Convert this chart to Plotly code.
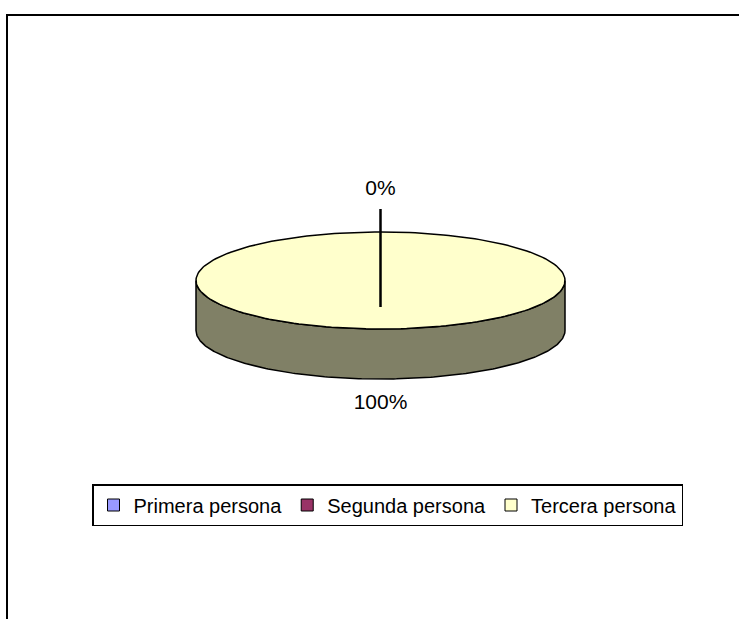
import numpy as np
import plotly.graph_objects as go

# Datos del gráfico (porcentaje por persona gramatical)
categorias = ["Primera persona", "Segunda persona", "Tercera persona"]
valores = [0, 0, 100]
colores = ["#9999FF", "#993366", "#FFFFCC"]
colores_lado = ["#4D4D80", "#4D1A33", "#808066"]

W, H = 739, 619
# geometría de la tarta 3D (en píxeles, ejes 1:1)
CX, CY = 380.5, 280.5
RX, RY = 184.5, 48.5
PROF = 50
FUENTE = "Liberation Sans, Arial, sans-serif"


def arco(a0, a1, dy=0, n=200):
    t = np.linspace(a0, a1, n)
    return CX + RX * np.sin(t), CY - RY * np.cos(t) + dy


total = sum(valores)
fracs = [v / total for v in valores]
cortes = np.concatenate([[0], np.cumsum(fracs)]) * 2 * np.pi

fig = go.Figure()

# lados visibles (mitad frontal)
for i, v in enumerate(valores):
    if v == 0:
        continue
    a0, a1 = max(cortes[i], np.pi / 2), min(cortes[i + 1], 3 * np.pi / 2)
    if a1 <= a0:
        continue
    xs, ys = arco(a0, a1)
    xb, yb = arco(a1, a0, dy=PROF)
    fig.add_trace(go.Scatter(
        x=np.concatenate([xs, xb, xs[:1]]), y=np.concatenate([ys, yb, ys[:1]]),
        mode="lines", fill="toself", fillcolor=colores_lado[i],
        line=dict(color="black", width=1.5), showlegend=False, hoverinfo="skip"))

# caras superiores
for i, v in enumerate(valores):
    if v == 0:
        continue
    xs, ys = arco(cortes[i], cortes[i + 1])
    if fracs[i] < 1:
        xs = np.concatenate([[CX], xs, [CX]])
        ys = np.concatenate([[CY], ys, [CY]])
    fig.add_trace(go.Scatter(
        x=xs, y=ys, mode="lines", fill="toself", fillcolor=colores[i],
        line=dict(color="black", width=1.5), showlegend=False, hoverinfo="skip"))

# etiquetas de porcentaje
etiquetas = {}
for i, f in enumerate(fracs):
    m = (cortes[i] + cortes[i + 1]) / 2
    if np.cos(m) >= 0:
        pos = (CX + (RX + 42) * np.sin(m), CY - (RY + 42) * np.cos(m))
    else:
        pos = (CX + (RX + 25) * np.sin(m), CY - (RY + 25) * np.cos(m) + PROF)
    etiquetas[(round(pos[0], 1), round(pos[1], 1))] = f"{round(f * 100)}%"
    if f == 0:
        # línea guía para las porciones vacías
        fig.add_trace(go.Scatter(
            x=[pos[0], pos[0]], y=[pos[1] + 19, CY + 26.5], mode="lines",
            line=dict(color="black", width=2), showlegend=False, hoverinfo="skip"))

fig.add_trace(go.Scatter(
    x=[p[0] for p in etiquetas], y=[p[1] for p in etiquetas],
    text=list(etiquetas.values()), mode="text",
    textfont=dict(family=FUENTE, size=21, color="black"),
    showlegend=False, hoverinfo="skip"))

# entradas de la leyenda
for cat, col in zip(categorias, colores):
    fig.add_trace(go.Scatter(
        x=[None], y=[None], mode="markers", name=cat,
        marker=dict(symbol="square", size=12, color=col, line=dict(color="black", width=1))))

# marco del área del gráfico
fig.add_shape(type="line", x0=6, x1=W + 5, y0=15, y1=15, line=dict(color="black", width=2))
fig.add_shape(type="line", x0=7, x1=7, y0=15, y1=H + 5, line=dict(color="black", width=2))

fig.update_layout(
    width=W, height=H,
    margin=dict(l=0, r=0, t=0, b=0),
    paper_bgcolor="white", plot_bgcolor="white",
    font=dict(family=FUENTE, size=20, color="black"),
    xaxis=dict(range=[0, W], visible=False, fixedrange=True),
    yaxis=dict(range=[H, 0], visible=False, fixedrange=True),
    legend=dict(orientation="h", x=387.5 / W, y=1 - 505 / H,
                xanchor="center", yanchor="middle",
                bordercolor="black", borderwidth=1.5, bgcolor="white",
                font=dict(family=FUENTE, size=20)),
    showlegend=True,
)

fig.write_html("out.html", config={"displayModeBar": False},
               post_script="document.body.style.margin='0';")
